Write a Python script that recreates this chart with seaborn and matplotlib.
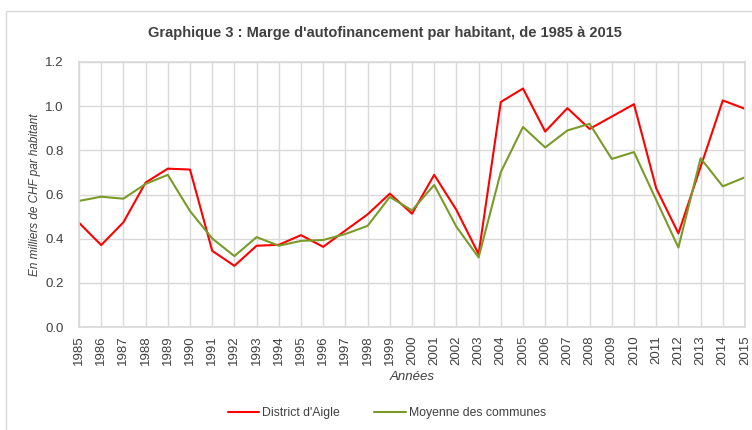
import matplotlib
matplotlib.use("Agg")
import matplotlib.pyplot as plt
import seaborn as sns
import pandas as pd
from matplotlib.patches import Rectangle
from matplotlib.lines import Line2D

years = list(range(1985, 2016))
district = [0.472, 0.371, 0.474, 0.654, 0.717, 0.713, 0.345, 0.277, 0.368, 0.372,
            0.416, 0.363, 0.437, 0.510, 0.604, 0.513, 0.689, 0.530, 0.330, 1.019,
            1.080, 0.885, 0.991, 0.897, 0.953, 1.009, 0.628, 0.424, 0.725, 1.026, 0.988]
moyenne = [0.571, 0.590, 0.581, 0.648, 0.689, 0.525, 0.401, 0.321, 0.407, 0.368,
           0.390, 0.394, 0.421, 0.458, 0.589, 0.528, 0.643, 0.454, 0.315, 0.701,
           0.906, 0.813, 0.890, 0.920, 0.761, 0.792, 0.575, 0.360, 0.764, 0.637, 0.678]
series_names = ["District d'Aigle", "Moyenne des communes"]
colors = ["#ff0000", "#7a9a2a"]
yticks = [0.0, 0.2, 0.4, 0.6, 0.8, 1.0, 1.2]

sns.set_theme(style="white")
plt.rcParams['font.family'] = ['Liberation Sans', 'DejaVu Sans']

df = pd.DataFrame({
    "Année": years * 2,
    "Valeur": district + moyenne,
    "Série": [series_names[0]] * len(years) + [series_names[1]] * len(years),
})

txt = "#404040"
fig = plt.figure(figsize=(7.52, 4.30), dpi=100)
ax = fig.add_axes([79/752, 1 - 327/430, (745-79)/752, (327-62)/430])
sns.lineplot(data=df, x="Année", y="Valeur", hue="Série", palette=colors,
             linewidth=1.5, ax=ax, legend=False)

ax.set_xlim(1985, 2015)
ax.set_ylim(0, 1.2)
ax.set_xticks(years)
ax.set_xticklabels([str(y) for y in years], rotation=90, fontsize=9.5, color=txt)
ax.set_yticks(yticks)
ax.set_yticklabels([f"{v:.1f}" for v in yticks], fontsize=9.5, color=txt)
ax.grid(True, color="#d9d9d9", linewidth=1)
ax.set_axisbelow(True)
for s in ax.spines.values():
    s.set_color("#d9d9d9")
ax.tick_params(axis="x", length=0, pad=6)
ax.tick_params(axis="y", length=0, pad=11)
ax.set_xlabel("Années", fontstyle="italic", fontsize=9.5, color=txt, labelpad=4)
ax.set_ylabel("En milliers de CHF par habitant", fontstyle="italic", fontsize=8.5,
              color=txt, labelpad=3)

fig.suptitle("Graphique 3 : Marge d'autofinancement par habitant, de 1985 à 2015",
             x=385/752, y=1 - 33/430, va="center", fontsize=10.5, fontweight="bold", color=txt)

handles = [Line2D([], [], color=c, linewidth=1.5) for c in colors]
fig.legend(handles, series_names, loc="center", bbox_to_anchor=(387/752, 1 - 413/430),
           ncol=2, frameon=False, fontsize=8.8, handlelength=2.6, columnspacing=2.8,
           handletextpad=0.25, labelcolor=txt)

fig.add_artist(Rectangle((6/752, -0.05), 1.1, 1 - 11/430 + 0.05, transform=fig.transFigure,
                         fill=False, edgecolor="#d9d9d9", linewidth=1))
fig.savefig("out.png", dpi=100)
